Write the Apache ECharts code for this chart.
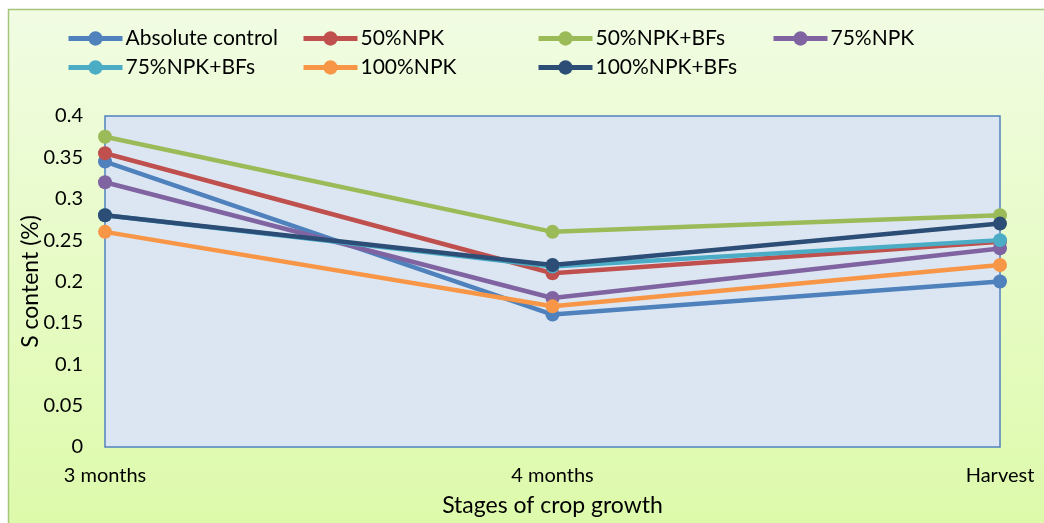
<!DOCTYPE html>
<html><head><meta charset="utf-8">
<script src="https://cdn.jsdelivr.net/npm/echarts@6/dist/echarts.min.js"></script>
<style>html,body{margin:0;padding:0;background:#fff}#c{width:1044px;height:523px}</style>
</head><body><div id="c"></div>
<script>
const categories = ['3 months', '4 months', 'Harvest'];
const absoluteControl = [0.345, 0.16, 0.20];
const npk50 = [0.355, 0.21, 0.248];
const npk50BFs = [0.375, 0.26, 0.28];
const npk75 = [0.32, 0.18, 0.24];
const npk75BFs = [0.28, 0.218, 0.25];
const npk100 = [0.26, 0.17, 0.22];
const npk100BFs = [0.28, 0.22, 0.27];
const seriesNames = ['Absolute control', '50%NPK', '50%NPK+BFs', '75%NPK', '75%NPK+BFs', '100%NPK', '100%NPK+BFs'];
const seriesData = [absoluteControl, npk50, npk50BFs, npk75, npk75BFs, npk100, npk100BFs];
const colors = ['#4F81BD', '#C0504D', '#9BBB59', '#8064A2', '#4BACC6', '#F79646', '#2C4D75'];
const legendColumns = [
  ['Absolute control', '75%NPK+BFs'],
  ['50%NPK', '100%NPK'],
  ['50%NPK+BFs', '100%NPK+BFs'],
  ['75%NPK']
];

const font = 'Lato, "Open Sans", sans-serif';
const chart = echarts.init(document.getElementById('c'));
chart.setOption({
  animation: false,
  backgroundColor: '#ffffff',
  graphic: [{
    type: 'rect', z: -10, silent: true,
    shape: {x: 8.5, y: 9.5, width: 1040, height: 520},
    style: {
      fill: new echarts.graphic.LinearGradient(0, 0, 0, 1, [
        {offset: 0, color: '#F1FCE3'}, {offset: 1, color: '#DDFAAA'}
      ]),
      stroke: '#A5C57A', lineWidth: 1.5
    }
  }],
  color: colors,
  legend: legendColumns.map((col, i) => ({
    orient: 'vertical', left: 66 + 235 * i, top: 28, padding: 0,
    itemWidth: 54, itemHeight: 18, itemGap: 8,
    lineStyle: {width: 5},
    textStyle: {fontFamily: font, fontSize: 21, color: '#000', padding: [0, 0, 0, -2]},
    data: col
  })),
  grid: {
    left: 105, right: 44, top: 116, bottom: 76, outerBoundsMode: 'none',
    show: true, backgroundColor: '#DCE6F2', borderColor: '#4F81BD', borderWidth: 1.5
  },
  xAxis: {
    type: 'category', data: categories, boundaryGap: false,
    axisLine: {show: false}, axisTick: {show: false},
    axisLabel: {fontFamily: font, fontSize: 20, color: '#000', margin: 19},
    name: 'Stages of crop growth', nameLocation: 'middle', nameGap: 47, nameMoveOverlap: false,
    nameTextStyle: {fontFamily: font, fontSize: 23, color: '#000'}
  },
  yAxis: {
    type: 'value', min: 0, max: 0.4, interval: 0.05,
    axisLine: {show: false}, axisTick: {show: false}, splitLine: {show: false},
    axisLabel: {fontFamily: font, fontSize: 20, color: '#000', margin: 22,
      formatter: v => String(+v.toFixed(2))},
    name: 'S content (%)', nameLocation: 'middle', nameGap: 63, nameRotate: 90, nameMoveOverlap: false,
    nameTextStyle: {fontFamily: font, fontSize: 23, color: '#000'}
  },
  series: seriesNames.map((n, i) => ({
    name: n, type: 'line', data: seriesData[i],
    symbol: 'circle', symbolSize: 14,
    lineStyle: {width: 4.5, color: colors[i]},
    itemStyle: {color: colors[i]}
  }))
});
</script></body></html>
